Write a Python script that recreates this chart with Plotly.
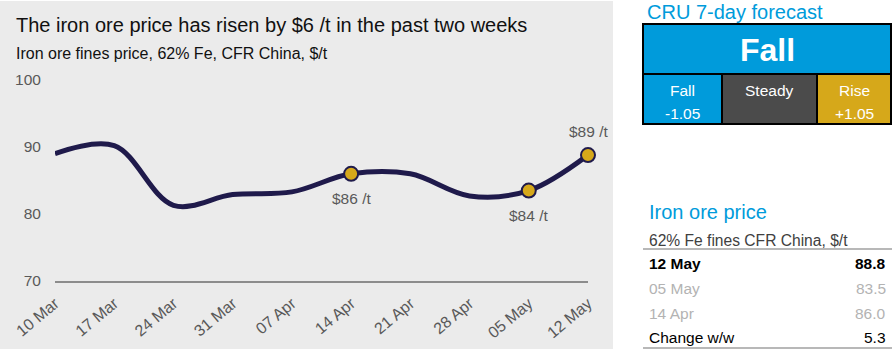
import plotly.graph_objects as go

# ---------------- data ----------------
dates = ["10 Mar", "17 Mar", "24 Mar", "31 Mar", "07 Apr",
         "14 Apr", "21 Apr", "28 Apr", "05 May", "12 May"]
prices = [89.0, 90.2, 81.3, 82.9, 83.3, 86.0, 86.0, 82.7, 83.5, 88.8]
highlight_idx = [5, 8, 9]
highlight_labels = ["$86 /t", "$84 /t", "$89 /t"]
highlight_pos = ["below", "below", "above"]
y_ticks = [70, 80, 90, 100]

forecast_title = "CRU 7-day forecast"
forecast_call = "Fall"
forecast_cells = [["Fall", "-1.05"], ["Steady"], ["Rise", "+1.05"]]

table_title = "Iron ore price"
table_sub = "62% Fe fines CFR China, $/t"
table_rows = ["12 May", "05 May", "14 Apr", "Change w/w"]
table_vals = ["88.8", "83.5", "86.0", "5.3"]

# ---------------- layout geometry ----------------
W, H = 893, 355
ML, MR, MT, MB = 55, 305, 80, 74
PW = W - ML - MR
PH = H - MT - MB
FONT = "Liberation Sans, Arial, sans-serif"
NAVY = "#1f1a4b"
GOLD = "#d6a81a"
BLUE = "#009bdb"
DGRAY = "#4b4b4b"
TXT = "#595959"


def px(x):
    return (x - ML) / PW


def py(y):
    return (H - MB - y) / PH


def note(x, y, text, size, color, xa="left", ya="middle"):
    return dict(x=px(x), y=py(y), xref="paper", yref="paper",
                xanchor=xa, yanchor=ya, showarrow=False, text=text,
                font=dict(family=FONT, size=size, color=color))


fig = go.Figure()

fig.add_trace(go.Scatter(
    x=dates, y=prices, mode="lines",
    line=dict(color=NAVY, width=5, shape="spline", smoothing=1.0),
    hoverinfo="skip", cliponaxis=False, showlegend=False))

fig.add_trace(go.Scatter(
    x=[dates[i] for i in highlight_idx], y=[prices[i] for i in highlight_idx],
    mode="markers",
    marker=dict(color=GOLD, size=14, line=dict(color=NAVY, width=2)),
    hoverinfo="skip", cliponaxis=False, showlegend=False))

annotations = []
for i, lab, pos in zip(highlight_idx, highlight_labels, highlight_pos):
    annotations.append(dict(
        x=dates[i], y=prices[i], xref="x", yref="y", text=lab, showarrow=False,
        xanchor="center", yanchor="middle",
        yshift=-25 if pos == "below" else 24,
        font=dict(family=FONT, size=15.5, color=TXT)))

# titles
annotations.append(note(14, 25, "The iron ore price has risen by $6 /t in the past two weeks",
                        20, "#111111"))
annotations.append(note(14, 53, "Iron ore fines price, 62% Fe, CFR China, $/t", 16, "#111111"))

shapes = []
# gray panel
shapes.append(dict(type="rect", xref="paper", yref="paper", layer="below",
                   x0=px(0), x1=px(613), y0=py(349), y1=py(1),
                   fillcolor="#ebebeb", line=dict(width=0)))

# forecast box
annotations.append(note(645, 12, forecast_title, 20, BLUE))
shapes.append(dict(type="rect", xref="paper", yref="paper",
                   x0=px(643), x1=px(891), y0=py(74), y1=py(24),
                   fillcolor=BLUE, line=dict(color="black", width=2)))
annotations.append(note(767, 50, "<b>%s</b>" % forecast_call, 32, "white", xa="center"))
cell_edges = [643, 722, 817, 891]
cell_colors = [BLUE, DGRAY, GOLD]
for k, (lines, col) in enumerate(zip(forecast_cells, cell_colors)):
    x0, x1 = cell_edges[k], cell_edges[k + 1]
    shapes.append(dict(type="rect", xref="paper", yref="paper",
                       x0=px(x0), x1=px(x1), y0=py(124), y1=py(74),
                       fillcolor=col, line=dict(color="black", width=2)))
    for j, t in enumerate(lines):
        annotations.append(note((x0 + x1) / 2, 90 + 23 * j, t, 15.5, "white", xa="center"))

# price table
annotations.append(note(647, 212, table_title, 20, BLUE))
annotations.append(note(647, 240, table_sub, 15.6, "#404040"))
for yy in (249, 348):
    shapes.append(dict(type="line", xref="paper", yref="paper",
                       x0=px(643), x1=px(892), y0=py(yy), y1=py(yy),
                       line=dict(color="#a0a0a0", width=1.5)))
row_y = [263, 288, 313, 337]
row_col = ["#000000", "#b3b3b3", "#b3b3b3", "#000000"]
row_bold = [True, False, False, False]
for lab, val, yy, col, b in zip(table_rows, table_vals, row_y, row_col, row_bold):
    lt = "<b>%s</b>" % lab if b else lab
    vt = "<b>%s</b>" % val if b else val
    annotations.append(note(647, yy, lt, 15.5, col))
    annotations.append(note(888, yy, vt, 15.5, col, xa="right"))

fig.update_layout(
    width=W, height=H,
    margin=dict(l=ML, r=MR, t=MT, b=MB, pad=0),
    paper_bgcolor="white", plot_bgcolor="rgba(0,0,0,0)",
    showlegend=False,
    annotations=annotations, shapes=shapes,
    xaxis=dict(type="category", range=[0, len(dates) - 1],
               showgrid=False, zeroline=False, showline=True,
               linecolor="#8c8c8c", linewidth=2,
               ticks="outside", ticklen=5, tickcolor="rgba(0,0,0,0)",
               tickangle=-40, tickfont=dict(family=FONT, size=16, color=TXT),
               fixedrange=True),
    yaxis=dict(range=[70, 100], tickvals=y_ticks, showgrid=False, zeroline=False,
               showline=False, ticks="outside", ticklen=10, tickcolor="rgba(0,0,0,0)",
               tickfont=dict(family=FONT, size=15.5, color=TXT), fixedrange=True),
)

fig.write_html("out.html", config={"displayModeBar": False},
               post_script="document.body.style.margin='0';document.body.style.padding='0';")
